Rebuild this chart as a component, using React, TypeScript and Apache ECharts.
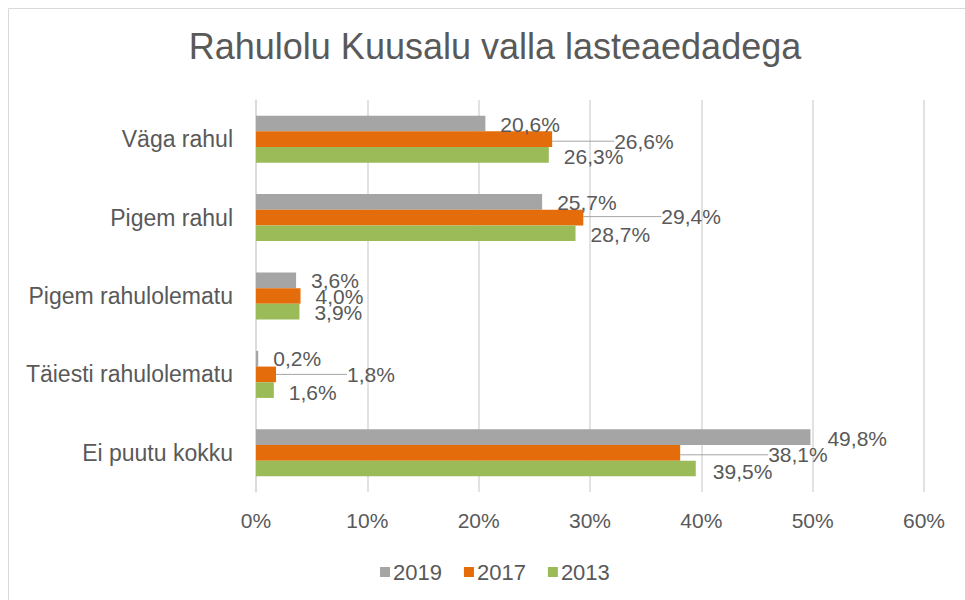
import React, { useEffect, useRef } from "react";
import * as echarts from "echarts";

const title = "Rahulolu Kuusalu valla lasteaedadega";
const categories = ["Väga rahul", "Pigem rahul", "Pigem rahulolematu", "Täiesti rahulolematu", "Ei puutu kokku"];
const seriesNames = ["2019", "2017", "2013"];
const values2019 = [20.6, 25.7, 3.6, 0.2, 49.8];
const values2017 = [26.6, 29.4, 4.0, 1.8, 38.1];
const values2013 = [26.3, 28.7, 3.9, 1.6, 39.5];
const colors = ["#A5A5A5", "#E46C0A", "#9BBB59"];

// label displacement (px) beyond the default outside-end position, per series / category
const labelShiftX = [
  [0, 0, 0, 0, 2],
  [47, 63, 0, 56, 73],
  [0, 0, 0, 0, 2],
];
const labelShiftY = [
  [1, 1, 0, 0, 1],
  [2, -1, 0, 0, 2],
  [2, 1, 1, 2, 3],
];

const FONT = "'Liberation Sans', Arial, sans-serif";
const TXT = "#595959";

const fmt = (v: number) => v.toFixed(1).replace(".", ",") + "%";

export default function App() {
  const ref = useRef<HTMLDivElement>(null);
  useEffect(() => {
    if (!ref.current) return;
    const chart = echarts.init(ref.current, null, { renderer: "svg" });
    const all = [values2019, values2017, values2013];
    const series = all.map((vals, si) => ({
      name: seriesNames[si],
      type: "bar",
      barGap: "0%",
      barCategoryGap: "40%",
      itemStyle: { color: colors[si] },
      data: vals.map((v, di) => ({
        value: v,
        labelLine: { show: si === 1 && labelShiftX[si][di] > 0 },
      })),
      label: {
        show: true,
        position: "right",
        distance: 15,
        formatter: (p: any) => fmt(p.value),
        color: TXT,
        fontSize: 21,
        fontFamily: FONT,
      },
      labelLine: {
        show: si === 1,
        lineStyle: { color: "#A6A6A6", width: 1 },
      },
      labelLayout: (p: any) => ({
        dx: labelShiftX[si][p.dataIndex],
        dy: labelShiftY[si][p.dataIndex],
      }),
    }));
    chart.setOption({
      animation: false,
      textStyle: { fontFamily: FONT },
      title: {
        text: title,
        left: 490,
        textAlign: "center",
        top: 23,
        textStyle: { fontSize: 36, fontWeight: "normal", color: TXT, fontFamily: FONT },
      },
      graphic: [
        {
          type: "rect",
          left: 6,
          top: 6,
          shape: { width: 990, height: 620 },
          style: { fill: "none", stroke: "#D9D9D9", lineWidth: 1 },
          silent: true,
        },
      ],
      legend: {
        data: seriesNames,
        left: 375,
        top: 556,
        icon: "rect",
        itemWidth: 10,
        itemHeight: 10,
        itemGap: 22,
        textStyle: { fontSize: 22, color: TXT, fontFamily: FONT, padding: [0, 0, 0, -2] },
      },
      grid: { left: 256, right: 41, top: 100, bottom: 108, containLabel: false },
      xAxis: {
        type: "value",
        min: 0,
        max: 60,
        interval: 10,
        axisLine: { show: false },
        axisTick: { show: false },
        splitLine: { lineStyle: { color: "#D9D9D9", width: 1.5 } },
        axisLabel: { formatter: "{value}%", fontSize: 21, color: TXT, fontFamily: FONT, margin: 18 },
      },
      yAxis: {
        type: "category",
        data: categories,
        inverse: true,
        axisLine: { show: true, lineStyle: { color: "#D9D9D9", width: 1.5 } },
        axisTick: { show: false },
        axisLabel: { fontSize: 23, color: TXT, fontFamily: FONT, margin: 23 },
      },
      series,
    } as any);
    return () => chart.dispose();
  }, []);
  return (
    <div
      ref={ref}
      style={{ position: "absolute", left: 0, top: 0, width: 965, height: 600, background: "#fff" }}
    />
  );
}
